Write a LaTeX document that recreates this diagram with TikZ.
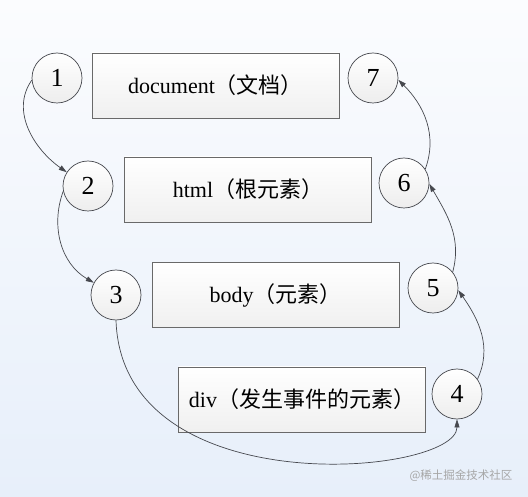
\documentclass[tikz,border=0pt]{standalone}
\usepackage{fontspec}
\setmainfont{Liberation Serif}
\newfontfamily\cjk{Noto Sans CJK SC}
\usepackage{tikz}
\usetikzlibrary{arrows.meta,positioning}
\definecolor{bgtop}{RGB}{251,252,254}
\definecolor{bgbot}{RGB}{231,239,250}
\definecolor{edgegray}{RGB}{105,105,105}
\definecolor{linegray}{RGB}{70,72,78}

\begin{document}
\begin{tikzpicture}[
  x=1pt,y=1pt,
  stage/.style={draw=edgegray,line width=0.8pt,top color=white,bottom color=black!6,
    minimum width=247pt,minimum height=65pt,inner sep=0pt,font=\fontsize{22}{26}\selectfont},
  hop/.style={circle,draw=linegray,line width=0.7pt,top color=white,bottom color=black!7,
    minimum size=50pt,inner sep=0pt,font=\fontsize{26}{30}\selectfont},
  flow/.style={-{Triangle[length=8pt,width=5pt]},linegray,line width=0.7pt},
]
% background
\shade[top color=bgtop,bottom color=bgbot] (0,0) rectangle (528,496);
\useasboundingbox (0,0) rectangle (528,496);
% boxes
\node[stage] (doc)  at (215.5,410.5) {document{\cjk（文档）}};
\node[stage] (html) at (248,306.5)   {html{\cjk（根元素）}};
\node[stage] (body) at (275.5,201)   {body{\cjk（元素）}};
\node[stage] (div)  at (302,96.5)    {div{\cjk（发生事件的元素）}};
% circles
\node[hop] (c1) at (57,418)  {1};
\node[hop] (c2) at (88,310)  {2};
\node[hop] (c3) at (116,201) {3};
\node[hop] (c4) at (457,102) {4};
\node[hop] (c5) at (433,208) {5};
\node[hop] (c6) at (404,313) {6};
\node[hop] (c7) at (373,418) {7};
% capture, down the left side
\draw[flow] (c1.185) to[out=235,in=145] (c2.147);
\draw[flow] (c2.192) to[out=250,in=150] (c3.151);
\draw[flow] (c3.south) .. controls (122,-10) and (457,20) .. (c4.south);
% bubble, up the right side
\draw[flow] (c4.36) to[out=65,in=-55] (c5.-5);
\draw[flow] (c5.39) to[out=75,in=-60] (c6.-2);
\draw[flow] (c6.33) to[out=70,in=-45] (c7.-4);
% watermark
\node[text=black!35,font=\cjk\fontsize{11.5}{13}\selectfont,anchor=east] (mark) at (516,20) {@稀土掘金技术社区};
\end{tikzpicture}
\end{document}
